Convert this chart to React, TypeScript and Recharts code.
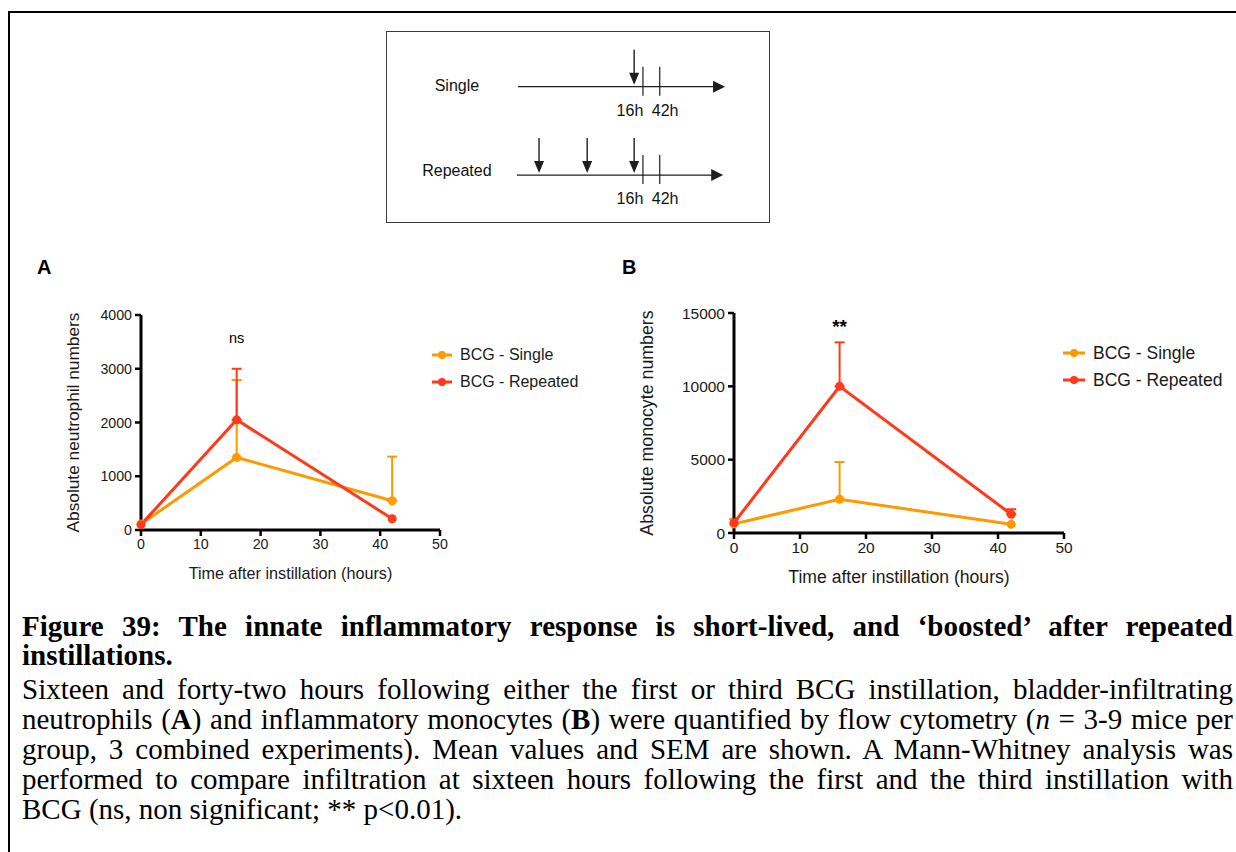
import React from 'react';
import {
  ComposedChart,
  ScatterChart,
  Scatter,
  Line,
  XAxis,
  YAxis,
  ErrorBar,
  Legend,
  ReferenceDot,
  ReferenceLine,
} from 'recharts';

// ---------------- data ----------------
const hours = [0, 16, 42];
const xTicks = [0, 10, 20, 30, 40, 50];
const seriesNames = ['BCG - Single', 'BCG - Repeated'];
const seriesColors = ['#FF9900', '#FF3A1A'];

const neutrophilSingle = [110, 1350, 545];
const neutrophilSingleSem = [0, 1440, 820];
const neutrophilRepeated = [100, 2050, 210];
const neutrophilRepeatedSem = [0, 950, 0];
const neutrophilTicks = [0, 1000, 2000, 3000, 4000];

const monocyteSingle = [620, 2300, 590];
const monocyteSingleSem = [330, 2540, 0];
const monocyteRepeated = [700, 10000, 1280];
const monocyteRepeatedSem = [0, 3000, 340];
const monocyteTicks = [0, 5000, 10000, 15000];

// schematic (diagram units 0-100 on both axes)
const schemeRows = ['Single', 'Repeated'];
const schemeRowLevel = [28.8, 75.3];
const schemeRowLabelLevel = [27.9, 72.6];
const schemeRowLabelPos = 18.3;
const schemeLineStart = [34.3, 34.0];
const schemeLineEnd = [88.5, 88.0];
const schemeInstillations = [[64.7], [39.8, 52.4, 64.7]];
const schemeSamplingMarks = [67.0, 71.4];
const schemeSamplingLabels = ['16h', '42h'];
const schemeSamplingLabelPos = [63.6, 72.8];
const schemeSamplingLabelOffset = 12.3;

// ---------------- styles ----------------
const FONT = '"Liberation Sans", Arial, Helvetica, sans-serif';
const SERIF = '"Liberation Serif", "Times New Roman", serif';
const TXT = '#1a1a1a';
const AXIS = '#000';
const INK = '#1e1e1e';

function buildTable(s: number[], ss: number[], r: number[], rs: number[]) {
  return hours.map((h, i) => ({
    h,
    single: s[i],
    singleErr: ss[i] > 0 ? [0, ss[i]] : null,
    repeated: r[i],
    repeatedErr: rs[i] > 0 ? [0, rs[i]] : null,
  }));
}

const neutrophilData = buildTable(neutrophilSingle, neutrophilSingleSem, neutrophilRepeated, neutrophilRepeatedSem);
const monocyteData = buildTable(monocyteSingle, monocyteSingleSem, monocyteRepeated, monocyteRepeatedSem);

const makeLegend = (symbolW: number, fontSize: number) => () => (
  <div style={{ fontFamily: FONT }}>
    {seriesNames.map((n, i) => (
      <div key={n} style={{ display: 'flex', alignItems: 'center', height: 27 }}>
        <svg width={symbolW} height={10} style={{ display: 'block' }}>
          <line x1={0} y1={5} x2={symbolW} y2={5} stroke={seriesColors[i]} strokeWidth={3} />
          <circle cx={symbolW / 2} cy={5} r={4} fill={seriesColors[i]} />
        </svg>
        <span style={{ marginLeft: 8, fontSize, color: TXT, whiteSpace: 'nowrap', lineHeight: '20px' }}>{n}</span>
      </div>
    ))}
  </div>
);

type PanelProps = {
  left: number;
  top: number;
  width: number;
  height: number;
  data: any[];
  yMax: number;
  yTicks: number[];
  yW: number;
  xH: number;
  mTop: number;
  mRight: number;
  yLabel: string;
  yLabelSize: number;
  xLabelSize: number;
  tickSize: number;
  annotation: string;
  annY: number;
  annSize: number;
  annBold: boolean;
  legendLeft: number;
  legendTop: number;
  legendSymbolW: number;
  legendFont: number;
};

function Panel(p: PanelProps) {
  return (
    <div style={{ position: 'absolute', left: p.left, top: p.top }}>
      <ComposedChart
        width={p.width}
        height={p.height}
        data={p.data}
        margin={{ top: p.mTop, right: p.mRight, bottom: 0, left: 0 }}
      >
        <XAxis
          type="number"
          dataKey="h"
          domain={[0, 50]}
          ticks={xTicks}
          interval={0}
          height={p.xH}
          axisLine={{ stroke: AXIS, strokeWidth: 3 }}
          tickLine={{ stroke: AXIS, strokeWidth: 2.5 }}
          tickSize={6}
          tickMargin={3}
          tick={{ fill: TXT, fontSize: p.tickSize, fontFamily: FONT }}
          label={{ value: 'Time after instillation (hours)', position: 'center', fill: TXT, fontSize: p.xLabelSize, fontFamily: FONT }}
        />
        <YAxis
          type="number"
          domain={[0, p.yMax]}
          ticks={p.yTicks}
          interval={0}
          width={p.yW}
          axisLine={{ stroke: AXIS, strokeWidth: 3 }}
          tickLine={{ stroke: AXIS, strokeWidth: 2.5 }}
          tickSize={6}
          tickMargin={3}
          tick={{ fill: TXT, fontSize: p.tickSize, fontFamily: FONT }}
          label={{ value: p.yLabel, angle: -90, position: 'center', fill: TXT, fontSize: p.yLabelSize, fontFamily: FONT }}
        />
        <Line
          dataKey="single"
          name={seriesNames[0]}
          type="linear"
          stroke={seriesColors[0]}
          strokeWidth={3}
          dot={{ r: 4.5, fill: seriesColors[0], stroke: seriesColors[0], strokeWidth: 0 }}
          activeDot={false}
          isAnimationActive={false}
        >
          <ErrorBar dataKey="singleErr" direction="y" width={5} stroke={seriesColors[0]} strokeWidth={2} />
        </Line>
        <Line
          dataKey="repeated"
          name={seriesNames[1]}
          type="linear"
          stroke={seriesColors[1]}
          strokeWidth={3}
          dot={{ r: 4.5, fill: seriesColors[1], stroke: seriesColors[1], strokeWidth: 0 }}
          activeDot={false}
          isAnimationActive={false}
        >
          <ErrorBar dataKey="repeatedErr" direction="y" width={5} stroke={seriesColors[1]} strokeWidth={2} />
        </Line>
        <ReferenceDot
          x={16}
          y={p.annY}
          r={0}
          fill="none"
          stroke="none"
          label={{
            value: p.annotation,
            position: 'center',
            fill: '#000',
            fontSize: p.annSize,
            fontWeight: p.annBold ? 700 : 400,
            fontFamily: FONT,
          }}
        />
        <Legend
          layout="vertical"
          align="center"
          verticalAlign="middle"
          content={makeLegend(p.legendSymbolW, p.legendFont)}
          wrapperStyle={{ left: p.legendLeft, top: p.legendTop, width: 200 }}
        />
      </ComposedChart>
    </div>
  );
}

const DownArrow = (props: any) => {
  const { cx, cy } = props;
  return (
    <g>
      <line x1={cx} y1={cy - 37} x2={cx} y2={cy - 12} stroke={INK} strokeWidth={1.4} />
      <polygon points={`${cx - 5},${cy - 14} ${cx + 5},${cy - 14} ${cx},${cy - 2}`} fill={INK} />
    </g>
  );
};

const RightHead = (props: any) => {
  const { cx, cy } = props;
  return <polygon points={`${cx - 12},${cy - 6} ${cx - 12},${cy + 6} ${cx},${cy}`} fill={INK} />;
};

const SampleMark = (props: any) => {
  const { cx, cy } = props;
  return <line x1={cx} y1={cy - 20} x2={cx} y2={cy + 9} stroke={INK} strokeWidth={1.2} />;
};

function Schematic() {
  const arrowPts = schemeInstillations.flatMap((xs, r) => xs.map((x) => ({ x, y: schemeRowLevel[r] })));
  const headPts = schemeRows.map((_, r) => ({ x: schemeLineEnd[r], y: schemeRowLevel[r] }));
  const markPts = schemeRows.flatMap((_, r) => schemeSamplingMarks.map((x) => ({ x, y: schemeRowLevel[r] })));
  const textStyle = { fill: '#111', fontSize: 16, fontFamily: FONT };
  return (
    <div
      style={{
        position: 'absolute',
        left: 386,
        top: 31,
        width: 384,
        height: 192,
        border: '1px solid #3a3a3a',
        boxSizing: 'border-box',
      }}
    >
      <ScatterChart width={382} height={190} margin={{ top: 0, right: 0, bottom: 0, left: 0 }}>
        <XAxis type="number" dataKey="x" domain={[0, 100]} hide height={0} />
        <YAxis type="number" dataKey="y" domain={[0, 100]} reversed hide width={0} />
        {schemeRows.map((_, r) => (
          <ReferenceLine
            key={'tl' + r}
            segment={[
              { x: schemeLineStart[r], y: schemeRowLevel[r] },
              { x: schemeLineEnd[r] - 2, y: schemeRowLevel[r] },
            ]}
            stroke={INK}
            strokeWidth={1.3}
          />
        ))}
        <Scatter data={markPts} shape={SampleMark} isAnimationActive={false} />
        <Scatter data={arrowPts} shape={DownArrow} isAnimationActive={false} />
        <Scatter data={headPts} shape={RightHead} isAnimationActive={false} />
        {schemeRows.map((name, r) => (
          <ReferenceDot
            key={'rl' + r}
            x={schemeRowLabelPos}
            y={schemeRowLabelLevel[r]}
            r={0}
            fill="none"
            stroke="none"
            label={{ value: name, position: 'center', ...textStyle }}
          />
        ))}
        {schemeRows.flatMap((_, r) =>
          schemeSamplingLabels.map((lab, k) => (
            <ReferenceDot
              key={'sl' + r + k}
              x={schemeSamplingLabelPos[k]}
              y={schemeRowLevel[r] + schemeSamplingLabelOffset}
              r={0}
              fill="none"
              stroke="none"
              label={{ value: lab, position: 'center', ...textStyle }}
            />
          ))
        )}
      </ScatterChart>
    </div>
  );
}

const J: React.CSSProperties = { textAlign: 'justify', textAlignLast: 'justify' };

export default function App() {
  return (
    <div
      style={{
        position: 'absolute',
        left: 0,
        top: 0,
        width: 1236,
        height: 852,
        overflow: 'hidden',
        background: '#fff',
      }}
    >
      <div
        style={{
          position: 'absolute',
          left: 8,
          top: 11,
          width: 1400,
          height: 1000,
          borderTop: '2px solid #000',
          borderLeft: '2px solid #000',
        }}
      />
      <Schematic />
      <div style={{ position: 'absolute', left: 37, top: 256, fontFamily: FONT, fontWeight: 700, fontSize: 20, lineHeight: '22px', color: '#000' }}>
        A
      </div>
      <div style={{ position: 'absolute', left: 622, top: 256, fontFamily: FONT, fontWeight: 700, fontSize: 20, lineHeight: '22px', color: '#000' }}>
        B
      </div>
      <Panel
        left={5}
        top={280}
        width={600}
        height={336}
        data={neutrophilData}
        yMax={4000}
        yTicks={neutrophilTicks}
        yW={136}
        xH={86}
        mTop={35}
        mRight={165}
        yLabel="Absolute neutrophil numbers"
        yLabelSize={17.3}
        xLabelSize={16.2}
        tickSize={14.2}
        annotation="ns"
        annY={3570}
        annSize={14.5}
        annBold={false}
        legendLeft={427}
        legendTop={61.5}
        legendSymbolW={20}
        legendFont={16}
      />
      <Panel
        left={560}
        top={280}
        width={676}
        height={341}
        data={monocyteData}
        yMax={15000}
        yTicks={monocyteTicks}
        yW={174}
        xH={88}
        mTop={33}
        mRight={172}
        yLabel="Absolute monocyte numbers"
        yLabelSize={17.8}
        xLabelSize={17.6}
        tickSize={15.5}
        annotation="**"
        annY={14100}
        annSize={19}
        annBold={true}
        legendLeft={503}
        legendTop={59.5}
        legendSymbolW={22}
        legendFont={17.5}
      />
      <div
        style={{
          position: 'absolute',
          left: 22,
          top: 612,
          width: 1211,
          fontFamily: SERIF,
          fontSize: 29,
          color: '#000',
        }}
      >
        <div style={{ lineHeight: '29px' }}>
          <div style={J}>
            <b>Figure 39: The innate inflammatory response is short-lived, and ‘boosted’ after repeated</b>
          </div>
          <div>
            <b>instillations.</b>
          </div>
        </div>
        <div style={{ lineHeight: '30px', marginTop: 4 }}>
          <div style={J}>
            Sixteen and forty-two hours following either the first or third BCG instillation, bladder-infiltrating
          </div>
          <div style={J}>
            neutrophils (<b>A</b>) and inflammatory monocytes (<b>B</b>) were quantified by flow cytometry (<i>n</i> = 3-9 mice per
          </div>
          <div style={J}>
            group, 3 combined experiments). Mean values and SEM are shown. A Mann-Whitney analysis was
          </div>
          <div style={J}>
            performed to compare infiltration at sixteen hours following the first and the third instillation with
          </div>
          <div style={{ whiteSpace: 'nowrap' }}>BCG (ns, non significant; ** p&lt;0.01).</div>
        </div>
      </div>
    </div>
  );
}
